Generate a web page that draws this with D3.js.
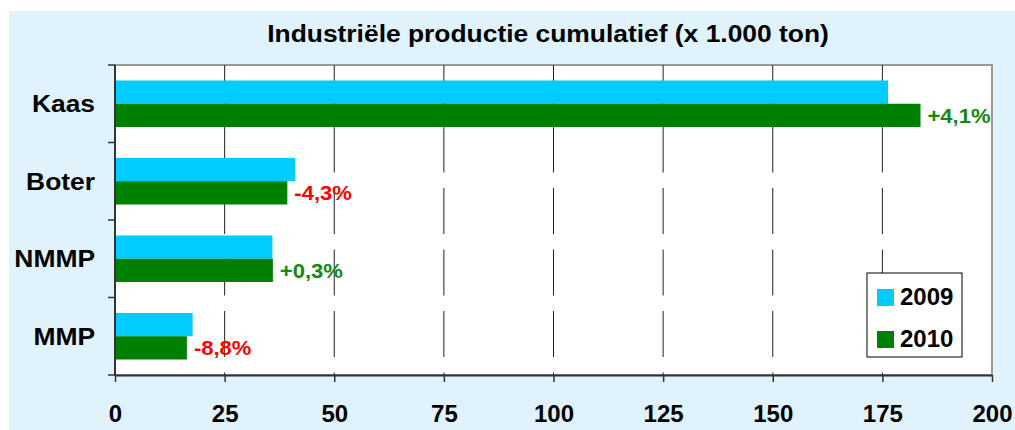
<!DOCTYPE html>
<html>
<head>
<meta charset="utf-8">
<script src="https://cdn.jsdelivr.net/npm/d3@7"></script>
<style>
  body { margin: 0; background: #ffffff; }
  text { font-family: "Liberation Sans", Arial, sans-serif; font-weight: bold; }
</style>
</head>
<body>
<div id="container"></div>
<script>
let w = 1015;
let h = 430;

// data
let categories = ["Kaas", "Boter", "NMMP", "MMP"];
let years = ["2009", "2010"];
let values2009 = [176.3, 41.1, 35.9, 17.7];
let values2010 = [183.7, 39.3, 36.0, 16.4];
let changeLabels = ["+4,1%", "-4,3%", "+0,3%", "-8,8%"];
let xTicks = [0, 25, 50, 75, 100, 125, 150, 175, 200];
let title = "Industriële productie cumulatief (x 1.000 ton)";

let colors = {"2009": "#00ccff", "2010": "#008000"};

let plotLeft = 115, plotRight = 992, plotTop = 65, plotBottom = 375;
let stretch = 1.1; // text in the original is slightly widened

let viz = d3.select("#container").append("svg")
    .attr("width", w)
    .attr("height", h)
;

// chart background
viz.append("rect")
  .attr("x", 9).attr("y", 11)
  .attr("width", w - 9).attr("height", h - 11)
  .attr("fill", "#e0f3fc");

viz.append("text")
  .attr("transform", "translate(548,42) scale(" + stretch + ",1)")
  .attr("text-anchor", "middle")
  .attr("font-size", 24)
  .text(title);

let xScale = d3.scaleLinear().domain([0, 200]).range([plotLeft, plotRight]);
let yScale = d3.scaleBand().domain(categories).range([plotTop, plotBottom]);
let inner = d3.scaleBand().domain(years)
  .range([yScale.bandwidth() * 0.2, yScale.bandwidth() * 0.8]);

// plot area
viz.append("rect")
  .attr("x", plotLeft).attr("y", plotTop)
  .attr("width", plotRight - plotLeft).attr("height", plotBottom - plotTop)
  .attr("fill", "white")
  .attr("stroke", "#9a9a9a")
  .attr("stroke-width", 2);

// dashed gridlines
viz.append("g").selectAll("line").data(xTicks.slice(1, -1)).enter()
  .append("line")
  .attr("x1", d => xScale(d)).attr("x2", d => xScale(d))
  .attr("y1", plotTop).attr("y2", plotBottom)
  .attr("stroke", "#222")
  .attr("stroke-width", 1)
  .attr("stroke-dasharray", "46,15.5");

let rows = categories.map(function(c, i){
  return {cat: c, v2009: values2009[i], v2010: values2010[i], label: changeLabels[i]};
});

let groups = viz.append("g").selectAll("g").data(rows).enter()
  .append("g")
  .attr("transform", d => "translate(0," + yScale(d.cat) + ")");

groups.append("rect")
  .attr("x", plotLeft)
  .attr("y", inner("2009"))
  .attr("width", d => xScale(d.v2009) - plotLeft)
  .attr("height", inner.bandwidth())
  .attr("fill", colors["2009"]);

groups.append("rect")
  .attr("x", plotLeft)
  .attr("y", inner("2010"))
  .attr("width", d => xScale(d.v2010) - plotLeft)
  .attr("height", inner.bandwidth())
  .attr("fill", colors["2010"]);

groups.append("text")
  .attr("transform", d => "translate(" + (xScale(d.v2010) + 7) + "," +
        (inner("2010") + inner.bandwidth() / 2) + ") scale(" + stretch + ",1)")
  .attr("dy", "0.36em")
  .attr("font-size", 20)
  .attr("fill", d => d.label[0] == "+" ? "#118a11" : "#ff0000")
  .text(d => d.label);

// axes
let xAxis = d3.axisBottom(xScale).tickValues(xTicks).tickSize(7).tickSizeOuter(0);
let xg = viz.append("g").attr("transform", "translate(0," + plotBottom + ")").call(xAxis);
xg.select(".domain").attr("stroke", "#333").attr("stroke-width", 2);
xg.selectAll(".tick line").attr("stroke", "#333").attr("stroke-width", 1.5);
xg.selectAll("text")
  .attr("font-size", 24)
  .attr("fill", "black")
  .attr("y", 47)
  .attr("dy", 0)
  .attr("font-family", "'Liberation Sans', Arial, sans-serif");

let yg = viz.append("g");
yg.append("line")
  .attr("x1", plotLeft).attr("x2", plotLeft)
  .attr("y1", plotTop).attr("y2", plotBottom)
  .attr("stroke", "#333").attr("stroke-width", 2);
yg.selectAll(".ytick").data(categories.concat(["end"])).enter()
  .append("line")
  .attr("class", "ytick")
  .attr("x1", plotLeft - 7).attr("x2", plotLeft)
  .attr("y1", (d, i) => plotTop + i * yScale.step())
  .attr("y2", (d, i) => plotTop + i * yScale.step())
  .attr("stroke", "#333").attr("stroke-width", 1.5);
yg.selectAll(".ylabel").data(categories).enter()
  .append("text")
  .attr("class", "ylabel")
  .attr("transform", d => "translate(95," + (yScale(d) + yScale.bandwidth() / 2) + ") scale(" + stretch + ",1)")
  .attr("dy", "0.36em")
  .attr("text-anchor", "end")
  .attr("font-size", 24)
  .text(d => d);

// legend
let legend = viz.append("g").attr("transform", "translate(867,273)");
legend.append("rect")
  .attr("width", 95).attr("height", 84)
  .attr("fill", "white").attr("stroke", "black").attr("stroke-width", 1);
let items = legend.selectAll(".item").data(years).enter()
  .append("g")
  .attr("transform", (d, i) => "translate(10," + (16 + i * 42) + ")");
items.append("rect")
  .attr("width", 17).attr("height", 17)
  .attr("fill", d => colors[d]);
items.append("text")
  .attr("x", 23).attr("y", 16)
  .attr("font-size", 24)
  .text(d => d);
</script>
</body>
</html>
